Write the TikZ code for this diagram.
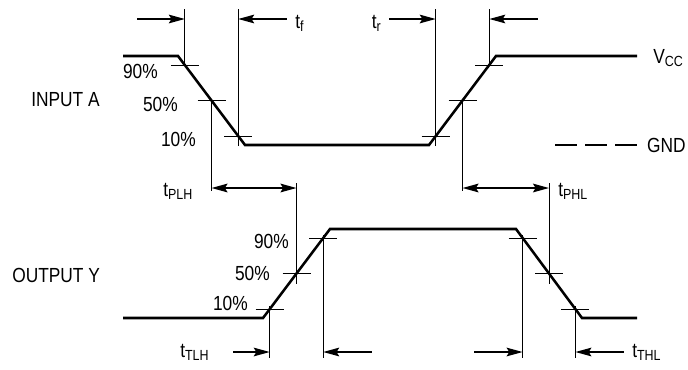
\documentclass[tikz,border=0pt]{standalone}
\usepackage{fontspec}
\setmainfont{Liberation Sans}[FakeStretch=0.85]
\usepackage{tikz}
\usetikzlibrary{arrows.meta}
\newcommand{\tsub}[2]{#1\raisebox{-0.3ex}{\fontsize{11}{11}\selectfont #2}}

\begin{document}
\begin{tikzpicture}[x=0.75pt, y=-0.75pt, >={Stealth[length=12pt,width=6.5pt,inset=2pt]}]
	\tikzstyle{wave}=[line width=1.9pt, line join=miter]
	\tikzstyle{guide}=[line width=0.6pt]
	\tikzstyle{dim}=[line width=1.1pt]
	\tikzstyle{lbl}=[inner sep=0pt, font=\fontsize{15.3}{18}\selectfont]
	\useasboundingbox (0,0) rectangle (688,369);
	% levels and guide rows
	\coordinate (ytop) at (0,9);
	\coordinate (ya)   at (0,19);
	\coordinate (yp)   at (0,188);
	\coordinate (yb)   at (0,352);
	\coordinate (ybot) at (0,358);
	% input A
	\coordinate (A0) at (123,56);
	\coordinate (A1) at (178,56);
	\coordinate (A2) at (245,145);
	\coordinate (A3) at (429,145);
	\coordinate (A4) at (496,56);
	\coordinate (A5) at (637,56);
	\coordinate (f90) at (184.8,65);
	\coordinate (f50) at (211.5,100.5);
	\coordinate (f10) at (238.2,136);
	\coordinate (r10) at (435.7,136);
	\coordinate (r50) at (462.5,100.5);
	\coordinate (r90) at (489.3,65);
	% output Y
	\coordinate (Y0) at (123,318);
	\coordinate (Y1) at (263,318);
	\coordinate (Y2) at (330,229);
	\coordinate (Y3) at (516,229);
	\coordinate (Y4) at (582,318);
	\coordinate (Y5) at (637,318);
	\coordinate (u10) at (269.7,309);
	\coordinate (u50) at (296.5,273.5);
	\coordinate (u90) at (323.2,238);
	\coordinate (d90) at (522.6,238);
	\coordinate (d50) at (549,273.5);
	\coordinate (d10) at (575.4,309);

	\draw[wave] (A0) -- (A1) -- (A2) -- (A3) -- (A4) -- (A5);
	\draw[wave] (Y0) -- (Y1) -- (Y2) -- (Y3) -- (Y4) -- (Y5);
	\draw[guide, line width=0.9pt, dash pattern=on 16.5pt off 6pt] (555,145) -- (637,145);

	\foreach \p in {f90,f50,f10,r10,r50,r90,u10,u50,u90,d90,d50,d10}
		\draw[guide] (\p) ++(-14,0) -- ++(28,0);

	\draw[guide] (f90) -- (f90 |- ytop);
	\draw[guide] (f10) ++(0,10) -- (f10 |- ytop);
	\draw[guide] (r10) ++(0,10) -- (r10 |- ytop);
	\draw[guide] (r90) -- (r90 |- ytop);
	\draw[guide] (f50) -- ++(0,90);
	\draw[guide] (r50) -- ++(0,90);
	\draw[guide] (u50) ++(0,10) -- ++(0,-101);
	\draw[guide] (d50) ++(0,10) -- ++(0,-101);
	\foreach \p in {u10,u90,d90,d10}
		\draw[guide] (\p) ++(0,-3) -- (\p |- ybot);

	\draw[dim, <-] (f90 |- ya) -- ++(-48,0);
	\draw[dim, <-] (f10 |- ya) -- ++(49,0);
	\draw[dim, <-] (r10 |- ya) -- ++(-47,0);
	\draw[dim, <-] (r90 |- ya) -- ++(49,0);
	\draw[dim, <->, line width=1.4pt] (f50 |- yp) -- (u50 |- yp);
	\draw[dim, <->, line width=1.4pt] (r50 |- yp) -- (d50 |- yp);
	\draw[dim, <-] (u10 |- yb) -- ++(-37,0);
	\draw[dim, <-] (u90 |- yb) -- ++(49,0);
	\draw[dim, <-] (d90 |- yb) -- ++(-49,0);
	\draw[dim, <-] (d10 |- yb) -- ++(49,0);

	\node[lbl, anchor=base west] (inA)  at (31,106)  {INPUT A};
	\node[lbl, anchor=base west] (outY) at (12,282)  {OUTPUT Y};
	\node[lbl, anchor=base east] (a90)  at (158,78)  {90\%};
	\node[lbl, anchor=base east] (a50)  at (178,111) {50\%};
	\node[lbl, anchor=base east] (a10)  at (196,146) {10\%};
	\node[lbl, anchor=base east] (y90)  at (289,248) {90\%};
	\node[lbl, anchor=base east] (y50)  at (270,280) {50\%};
	\node[lbl, anchor=base east] (y10)  at (248,310) {10\%};
	\node[lbl, anchor=base west] (vcc)  at (653,63)  {\tsub{V}{CC}};
	\node[lbl, anchor=base east] (gnd)  at (686,152) {GND};
	\node[lbl, anchor=base west] (tf)   at (295,28)  {\tsub{t}{f}};
	\node[lbl, anchor=base east] (tr)   at (381,28)  {\tsub{t}{r}};
	\node[lbl, anchor=base west] (tplh) at (163,196) {\tsub{t}{PLH}};
	\node[lbl, anchor=base west] (tphl) at (558,196) {\tsub{t}{PHL}};
	\node[lbl, anchor=base west] (ttlh) at (180,357) {\tsub{t}{TLH}};
	\node[lbl, anchor=base west] (tthl) at (632,357) {\tsub{t}{THL}};
\end{tikzpicture}
\end{document}
